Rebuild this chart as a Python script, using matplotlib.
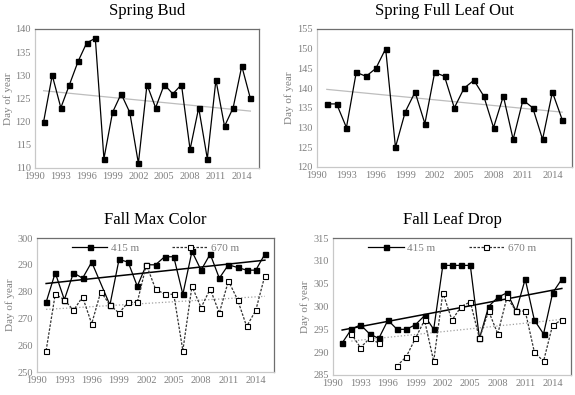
import numpy as np
import matplotlib
matplotlib.use("Agg")
import matplotlib.pyplot as plt

plt.rcParams["font.family"] = ["Liberation Serif", "DejaVu Serif"]

# ---- data ------------------------------------------------------------------
years = list(range(1991, 2016))

spring_bud = [120, 130, 123, 128, 133, 137, 138, 112, 122, 126, 122, 111, 128,
              123, 128, 126, 128, 114, 123, 112, 129, 119, 123, 132, 125]
spring_leaf = [136, 136, 130, 144, 143, 145, 150, 125, 134, 139, 131, 144, 143,
               135, 140, 142, 138, 130, 138, 127, 137, 135, 127, 139, 132]

# None = no observation
max_color_415 = [276, 287, 277, 287, 285, 291, None, 275, 292, 291, 282, 290, 290,
                 293, 293, 279, 295, 288, 294, 285, 290, 289, 288, 288, 294]
max_color_670 = [258, 279, 277, 273, 278, 268, 280, 275, 272, 276, 276, 290, 281,
                 279, 279, 258, 282, 274, 281, 272, 284, 277, 267, 273, 286]

leaf_drop_415 = [292, 295, 296, 294, 293, 297, 295, 295, 296, 298, 295, 309, 309,
                 309, 309, 293, 300, 302, 303, 299, 306, 297, 294, 303, 306]
leaf_drop_670 = [None, 294, 291, 293, 292, None, 287, 289, 293, 297, 288, 303, 297,
                 300, 301, 293, 299, 294, 302, 299, 299, 290, 288, 296, 297]

xticks = [1990, 1993, 1996, 1999, 2002, 2005, 2008, 2011, 2014]

GREY = "#7f7f7f"


def clean(vals):
    x = np.array([y for y, v in zip(years, vals) if v is not None], float)
    v = np.array([v for v in vals if v is not None], float)
    return x, v


def with_gaps(vals):
    return np.array([np.nan if v is None else v for v in vals], float)


def trend(ax, vals, **kw):
    x, v = clean(vals)
    k, b = np.polyfit(x, v, 1)
    xx = np.array([x.min(), x.max()])
    ax.plot(xx, k * xx + b, **kw)


def style(ax, title, ylim, ystep):
    ax.set_xlim(1990, 2016)
    ax.set_ylim(*ylim)
    ax.set_xticks(xticks)
    ax.set_yticks(np.arange(ylim[0], ylim[1] + 1, ystep))
    ax.tick_params(length=0, labelsize=7.5, labelcolor=GREY, pad=3)
    ax.set_ylabel("Day of year", fontsize=8, color=GREY, labelpad=2)
    for s in ("left", "bottom"):
        ax.spines[s].set_color("#c8c8c8")
    for s in ("top", "right"):
        ax.spines[s].set_color("#6e6e6e")
    for s in ax.spines.values():
        s.set_linewidth(0.9)
    ax.set_title(title, fontsize=12, pad=10)


fig = plt.figure(figsize=(5.75, 3.95), dpi=100)
W, H = 575, 395


def axes_px(l, t, r, b):
    return fig.add_axes([l / W, 1 - b / H, (r - l) / W, (b - t) / H])


mk = dict(marker="s", markersize=3.6, lw=0.9)

# (1) spring bud
ax = axes_px(35, 29, 259, 168)
trend(ax, spring_bud, color="#bdbdbd", lw=0.9)
ax.plot(years, spring_bud, color="black", mfc="black", **mk)
style(ax, "Spring Bud", (110, 140), 5)

# (2) spring full leaf out
ax = axes_px(317, 29, 572, 167)
trend(ax, spring_leaf, color="#bdbdbd", lw=0.9)
ax.plot(years, spring_leaf, color="black", mfc="black", **mk)
style(ax, "Spring Full Leaf Out", (120, 155), 5)


def fall_panel(rect, title, s415, s670, ylim, ystep, gaps670):
    ax = axes_px(*rect)
    trend(ax, s670, color="#a0a0a0", lw=0.9, ls=":")
    trend(ax, s415, color="black", lw=1.1)
    x4, v4 = clean(s415)
    l1, = ax.plot(x4, v4, color="black", mfc="black", label="415 m", **mk)
    if gaps670:
        l2, = ax.plot(years, with_gaps(s670), color="#333333", ls="--", dashes=(2, 1.2),
                      mfc="white", mec="black", mew=0.8, label="670 m", **mk)
    else:
        x6, v6 = clean(s670)
        l2, = ax.plot(x6, v6, color="#333333", ls="--", dashes=(2, 1.2),
                      mfc="white", mec="black", mew=0.8, label="670 m", **mk)
    style(ax, title, ylim, ystep)
    leg = ax.legend(handles=[l1, l2], loc="upper center", ncol=2, frameon=False,
                    fontsize=8, handlelength=3.2, columnspacing=3.0,
                    borderaxespad=0.1, bbox_to_anchor=(0.5, 1.0), handletextpad=0.3)
    for t in leg.get_texts():
        t.set_color(GREY)
    return ax


# (3) fall max color
fall_panel((37, 238, 274, 372), "Fall Max Color", max_color_415, max_color_670,
           (250, 300), 10, False)

# (4) fall leaf drop
fall_panel((333, 238, 571, 375), "Fall Leaf Drop", leaf_drop_415, leaf_drop_670,
           (285, 315), 5, True)

fig.savefig("out.png", dpi=100)
